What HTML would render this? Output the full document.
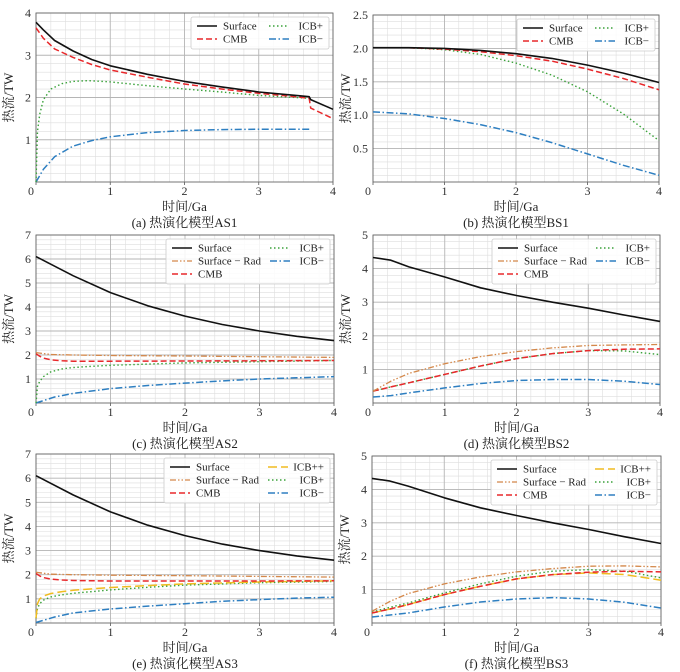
<!DOCTYPE html>
<html><head><meta charset="utf-8">
<style>
body{margin:0;background:#fff;}
svg{display:block;}
.tk{font-family:"Liberation Serif","Noto Serif CJK SC",serif;font-size:12px;fill:#333;}
.lab{font-family:"Liberation Serif","Noto Serif CJK SC",serif;font-size:13px;fill:#222;}
.lg{font-family:"Liberation Serif","Noto Serif CJK SC",serif;font-size:11px;fill:#222;}
</style></head>
<body>
<svg id="fig" width="680" height="672" viewBox="0 0 680 672" xmlns="http://www.w3.org/2000/svg"></svg>
<script>
// ---- data ----
const xA_s = [0,0.1,0.25,0.5,0.75,1,1.5,2,2.5,3,3.5,3.68,3.7,4];
const yA_surface = [3.78,3.6,3.35,3.1,2.9,2.75,2.55,2.38,2.25,2.13,2.05,2.02,1.95,1.72];
const yA_cmb = [3.65,3.4,3.15,2.95,2.78,2.65,2.48,2.32,2.2,2.1,2.02,1.98,1.75,1.5];
const xA_p = [0,0.02,0.05,0.1,0.2,0.35,0.5,0.7,1,1.5,2,2.5,3,3.5,3.68];
const yA_icbp = [0,1.2,1.6,1.95,2.2,2.33,2.38,2.4,2.37,2.28,2.2,2.13,2.05,2.0,1.98];
const xA_m = [0,0.1,0.25,0.5,0.75,1,1.5,2,2.5,3,3.5,3.68];
const yA_icbm = [0,0.3,0.6,0.85,0.98,1.07,1.17,1.22,1.24,1.25,1.25,1.25];

const xB = [0,0.5,1,1.5,2,2.5,3,3.5,4];
const yB_surface = [2.01,2.01,2.0,1.97,1.92,1.85,1.75,1.63,1.49];
const yB_cmb = [2.01,2.01,1.99,1.95,1.89,1.81,1.69,1.55,1.38];
const yB_icbp = [2.01,2.01,1.98,1.91,1.78,1.6,1.35,1.02,0.62];
const yB_icbm = [1.05,1.02,0.95,0.86,0.74,0.59,0.42,0.25,0.1];

const xC = [0,0.5,1,1.5,2,2.5,3,3.5,4];
const yC_surface = [6.1,5.3,4.6,4.05,3.62,3.27,3.0,2.78,2.6];
const xC_r = [0,0.2,0.5,1,2,3,4];
const yC_rad = [2.1,2.02,2.0,1.98,1.96,1.93,1.9];
const xC_c = [0,0.05,0.1,0.2,0.35,0.5,1,2,3,4];
const yC_cmb = [2.05,1.95,1.87,1.8,1.76,1.74,1.74,1.75,1.76,1.77];
const xC_p = [0,0.02,0.05,0.1,0.2,0.35,0.5,0.75,1,1.5,2,3,4];
const yC_icbp = [0,0.7,0.9,1.1,1.3,1.42,1.48,1.53,1.57,1.62,1.67,1.72,1.77];
const xC_m = [0,0.25,0.5,1,1.5,2,2.5,3,3.5,4];
const yC_icbm = [0,0.25,0.4,0.6,0.73,0.83,0.92,1.0,1.05,1.1];

const xD = [0,0.25,0.5,1,1.5,2,2.5,3,3.5,4];
const yD_surface = [4.33,4.25,4.05,3.75,3.43,3.2,3.0,2.82,2.62,2.43];
const yD_rad = [0.35,0.65,0.88,1.17,1.38,1.53,1.64,1.71,1.73,1.74];
const yD_cmb = [0.35,0.48,0.6,0.85,1.1,1.32,1.47,1.56,1.6,1.61];
const yD_icbp = [0.35,0.48,0.6,0.85,1.1,1.32,1.47,1.56,1.55,1.44];
const yD_icbm = [0.18,0.22,0.3,0.45,0.58,0.67,0.7,0.7,0.65,0.55];

const yE_cmb = [2.05,1.95,1.88,1.82,1.78,1.76,1.74,1.74,1.74,1.75];
const xE_p = [0,0.02,0.05,0.1,0.2,0.35,0.5,1,1.5,2,3,4];
const yE_icbpp = [0.2,0.8,1.0,1.12,1.22,1.3,1.36,1.47,1.55,1.62,1.7,1.75];
const yE_icbp = [0.2,0.6,0.8,0.95,1.08,1.17,1.23,1.37,1.48,1.57,1.67,1.72];
const yE_icbm = [0.02,0.25,0.42,0.58,0.7,0.8,0.9,0.97,1.03,1.07];

const yF_surface = [4.33,4.25,4.1,3.75,3.45,3.22,3.0,2.8,2.58,2.38];
const yF_rad = [0.35,0.65,0.88,1.17,1.38,1.53,1.63,1.7,1.71,1.68];
const yF_cmb = [0.3,0.42,0.55,0.85,1.1,1.32,1.45,1.52,1.55,1.53];
const yF_icbpp = [0.3,0.42,0.55,0.85,1.1,1.32,1.45,1.5,1.45,1.28];
const yF_icbp = [0.33,0.47,0.6,0.9,1.17,1.4,1.55,1.6,1.55,1.35];
const yF_icbm = [0.18,0.24,0.3,0.48,0.63,0.72,0.76,0.72,0.62,0.45];

const xTicks = [0,1,2,3,4];
const yTicksA = [1,2,3,4];
const yTicksB = [0.5,1.0,1.5,2.0,2.5];
const yTicksC = [1,2,3,4,5,6,7];
const yTicksD = [1,2,3,4,5];
const captions = ["(a) 热演化模型AS1","(b) 热演化模型BS1","(c) 热演化模型AS2","(d) 热演化模型BS2","(e) 热演化模型AS3","(f) 热演化模型BS3"];

// ---- styles ----
const ST = {
 surface:{c:"#111",w:1.6,d:"",name:"Surface"},
 rad:{c:"#d4884a",w:1.3,d:"6,2,1.5,2,1.5,2",name:"Surface − Rad"},
 cmb:{c:"#e8282b",w:1.5,d:"6,3",name:"CMB"},
 icbpp:{c:"#f0bc20",w:1.5,d:"9,4",name:"ICB++"},
 icbp:{c:"#3aa23a",w:1.4,d:"1.5,2.5",name:"ICB+"},
 icbm:{c:"#2e7fc1",w:1.5,d:"7,2.5,1.5,2.5",name:"ICB−"}
};

const svg = document.getElementById('fig');
const NS = "http://www.w3.org/2000/svg";
function mk(tag, attrs, parent){const e=document.createElementNS(NS,tag);for(const k in attrs)e.setAttribute(k,attrs[k]);(parent||svg).appendChild(e);return e;}

function panel(id, box, ymax, minorY, yTicks, fmt, series, legend, capIdx){
 const g = mk('g',{});
 
 
 const [L,T,R,B] = box;
 const sx = v => L + v/4*(R-L);
 const sy = v => B - v/ymax*(B-T);
 for(let v=0.2; v<4-1e-6; v+=0.2){ if(Math.abs(v-Math.round(v))<1e-6) continue;
  mk('line',{x1:sx(v),x2:sx(v),y1:T,y2:B,stroke:"#dedede","stroke-width":0.6},g);}
 for(let v=minorY; v<ymax-1e-6; v+=minorY){
  mk('line',{x1:L,x2:R,y1:sy(v),y2:sy(v),stroke:"#dedede","stroke-width":0.6},g);}
 xTicks.forEach(v=>{ mk('line',{x1:sx(v),x2:sx(v),y1:T,y2:B,stroke:"#b5b5b5","stroke-width":0.9},g);
   const t=mk('text',{x:v===0?sx(v)-5:sx(v),y:B+13,"text-anchor":"middle",class:"tk"},g);t.textContent=v;
    
   mk('line',{x1:sx(v),x2:sx(v),y1:B,y2:B+3,stroke:"#555","stroke-width":0.8},g);});
 yTicks.forEach(v=>{ mk('line',{x1:L,x2:R,y1:sy(v),y2:sy(v),stroke:"#b5b5b5","stroke-width":0.9},g);
   const t=mk('text',{x:L-5,y:sy(v)+4,"text-anchor":"end",class:"tk"},g);t.textContent=fmt(v);
    });
 mk('rect',{x:L,y:T,width:R-L,height:B-T,fill:"none",stroke:"#666","stroke-width":0.9},g);
 series.forEach(([key,xs,ys])=>{
  const s=ST[key];
  const p=mk('polyline',{points:xs.map((x,i)=>sx(x).toFixed(1)+","+sy(ys[i]).toFixed(1)).join(" "),fill:"none",stroke:s.c,"stroke-width":s.w,"stroke-dasharray":s.d,"stroke-linejoin":"round"},g);
  
  
 });
 const lgG = mk('g',{},g);
 
 
 const [c1w, c2w, rows] = legend.dims;
 const W = 8+20+6+c1w+12+20+6+c2w+4, H = rows*13+6;
 const lx = R-4-W, ly = T+4;
 mk('rect',{x:lx,y:ly,width:W,height:H,fill:"#fff","fill-opacity":0.85,stroke:"#ccc","stroke-width":0.8,rx:2},lgG);
 legend.cols.forEach((col,ci)=>{
  const cx = lx + 6 + (ci? 20+6+c1w+12 : 0);
  col.forEach((key,ri)=>{
   const s=ST[key]; const yy = ly+9+ri*13;
   mk('line',{x1:cx,x2:cx+20,y1:yy,y2:yy,stroke:s.c,"stroke-width":s.w,"stroke-dasharray":s.d},lgG);
   const t=mk('text',{x:cx+(ci? 20+6+c2w: 26),y:yy+3.5,"text-anchor":ci?"end":"start",class:"lg"},lgG);
   t.textContent=s.name;
   
   
  });
 });
 const yl=mk('text',{x:0,y:0,transform:`translate(${L-23},${(T+B)/2}) rotate(-90)`,"text-anchor":"middle",class:"lab"},g);
 yl.textContent="热流/TW";
  
 const xl=mk('text',{x:(L+R)/2,y:B+29,"text-anchor":"middle",class:"lab"},g);
 xl.textContent="时间/Ga";
  
 const cp=mk('text',{x:(L+R)/2,y:B+45,"text-anchor":"middle",class:"lab"},g);
 cp.textContent=captions[capIdx];
  
}
const f0 = v=>String(v), f1 = v=>v.toFixed(1);

panel('a',[36,13,333,182],4,0.2,yTicksA,f0,
 [['icbm',xA_m,yA_icbm],['icbp',xA_p,yA_icbp],['cmb',xA_s,yA_cmb],['surface',xA_s,yA_surface]],
 {dims:[34,28,2],cols:[['surface','cmb'],['icbp','icbm']]},0);
panel('b',[373,15,659,182],2.5,0.1,yTicksB,f1,
 [['icbm',xB,yB_icbm],['icbp',xB,yB_icbp],['cmb',xB,yB_cmb],['surface',xB,yB_surface]],
 {dims:[34,28,2],cols:[['surface','cmb'],['icbp','icbm']]},1);
panel('c',[36,235,334,403],7,0.2,yTicksC,f0,
 [['icbm',xC_m,yC_icbm],['icbp',xC_p,yC_icbp],['cmb',xC_c,yC_cmb],['rad',xC_r,yC_rad],['surface',xC,yC_surface]],
 {dims:[60,28,3],cols:[['surface','rad','cmb'],['icbp','icbm']]},2);
panel('d',[373,235,660,403],5,0.2,yTicksD,f0,
 [['icbm',xD,yD_icbm],['icbp',xD,yD_icbp],['cmb',xD,yD_cmb],['rad',xD,yD_rad],['surface',xD,yD_surface]],
 {dims:[60,28,3],cols:[['surface','rad','cmb'],['icbp','icbm']]},3);
panel('e',[36,454,334,623],7,0.2,yTicksC,f0,
 [['icbm',xC_m,yE_icbm],['icbp',xE_p,yE_icbp],['icbpp',xE_p,yE_icbpp],['cmb',xC_c,yE_cmb],['rad',xC_r,yC_rad],['surface',xC,yC_surface]],
 {dims:[60,30,3],cols:[['surface','rad','cmb'],['icbpp','icbp','icbm']]},4);
panel('f',[372,456,661,623],5,0.2,yTicksD,f0,
 [['icbm',xD,yF_icbm],['icbp',xD,yF_icbp],['icbpp',xD,yF_icbpp],['cmb',xD,yF_cmb],['rad',xD,yF_rad],['surface',xD,yF_surface]],
 {dims:[60,30,3],cols:[['surface','rad','cmb'],['icbpp','icbp','icbm']]},5);
</script>
</body></html>
